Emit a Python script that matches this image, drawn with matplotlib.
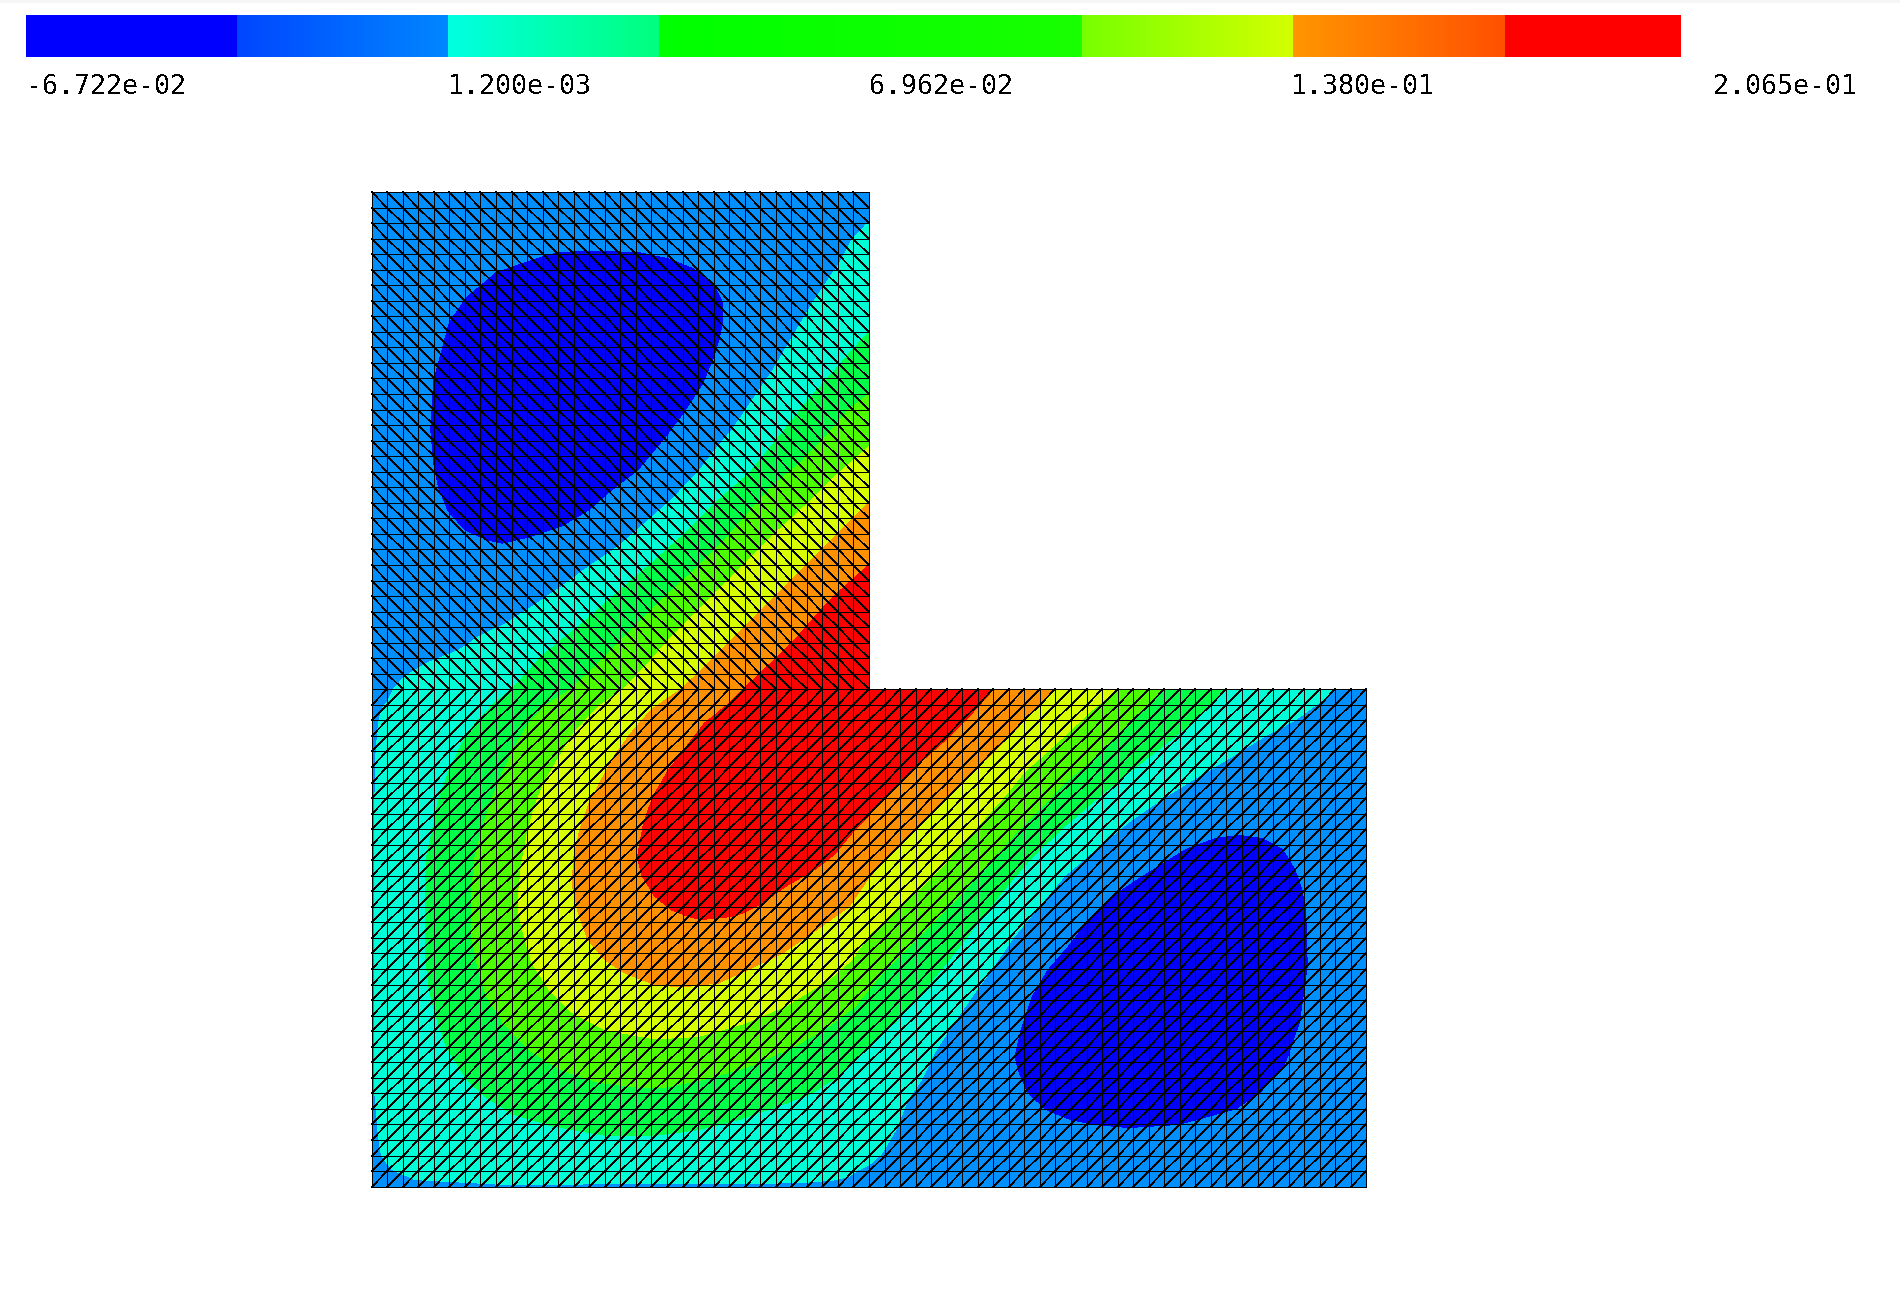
from matplotlib import pyplot as plt
from matplotlib.colors import to_rgb
from matplotlib.patches import Polygon, Rectangle
import matplotlib.tri as mtri
import numpy as np

plt.rcParams['path.simplify'] = False

# colour bar: level edges, one colour ramp per band
bar_edges = [-0.06722, -0.03299, 0.00125, 0.03549, 0.06962, 0.10412, 0.13835, 0.17275, 0.2012]
bar_start = ['#0000ff', '#0046ff', '#00ffe1', '#00ff00', '#0cff00', '#78ff00', '#ff9600', '#ff0000']
bar_stop = ['#0000ff', '#0087ff', '#00ff7d', '#0cff00', '#18ff00', '#d2ff00', '#ff5000', '#ff0000']
tick_values = [-0.06722, 0.0012, 0.06962, 0.138, 0.2065]
tick_labels = ['-6.722e-02', '1.200e-03', '6.962e-02', '1.380e-01', '2.065e-01']

# L-shaped domain in mesh cells
domain = [(0, 0), (64, 0), (64, 32), (32, 32), (32, 64), (0, 64)]
n_cells = 64

# band colours, lowest first
color_deep = '#0000ff'
color_low = '#008fff'
color_cyan = '#00ffd7'
color_green = '#00ff46'
color_lime = '#4bff00'
color_yellow = '#d7ff00'
color_orange = '#ff9100'
color_red = '#ff0000'

# contour outlines (mesh cell units)
cyan_line = [(32, 62.1), (30.9, 60.9), (30.1, 59.4), (29.2, 58.1), (28.35, 56.8), (27.1, 54.7), (25.8, 52.5), (24.5, 50.6),
             (23.2, 48.7), (22.1, 47.4), (21.1, 46.1), (19.3, 44.2), (17.6, 42.7), (15.9, 41.2), (13.7, 39.7), (12.2, 38.6),
             (10.3, 37.3), (8.6, 36.2), (6.9, 35.4), (5.6, 34.5), (3.6, 33.7), (2.1, 32.8), (1.4, 32), (1.07, 31.3),
             (.64, 30.7), (.43, 29.8), (.26, 27.7), (.17, 23.4), (.17, 14), (.2, 6), (.43, 3.2), (.64, 1.95),
             (1.3, 1.1), (2.8, .45), (8.6, .13), (14, .17), (23.4, .17), (27.7, .26), (29.8, .43), (30.7, .64),
             (31.3, 1.07), (32, 1.4), (32.8, 2.1), (33.7, 3.6), (34.5, 5.6), (35.4, 6.9), (36.2, 8.6), (37.3, 10.3),
             (38.6, 12.2), (39.7, 13.7), (41.2, 15.9), (42.9, 18), (44.6, 20), (46.8, 21.9), (48.9, 23.6), (51.1, 25.1),
             (53.2, 26.4), (55.4, 27.7), (57.5, 29), (59.4, 30), (60.9, 31.1), (62, 32)]
green_line = [(32, 55), (30.9, 53.8), (29.6, 52.3), (28.1, 50.6), (26.2, 48.25), (24.3, 45.9), (21.9, 43.8), (19.9, 41.8),
              (18, 40.1), (16.7, 39), (15, 37.5), (13.5, 36.2), (12, 35), (10.9, 34.1), (10.1, 33.2), (9, 32), (7.9, 31.1),
              (6.65, 29.8), (5.8, 28.5), (5, 26.8), (4.3, 24.9), (4, 23.4), (3.54, 21.2), (3.43, 19.1), (3.43, 15),
              (3.7, 12.7), (4.07, 11.2), (4.8, 9), (6.1, 6.9), (7.3, 5.8), (9, 4.7), (11.6, 3.9), (15, 3.3), (18.2, 3.3),
              (21, 3.66), (23.6, 4.3), (26.2, 5.2), (28.3, 6), (30, 7.1), (32, 9), (33.7, 10.6), (35.3, 12.4), (37, 14.4),
              (39, 17), (41, 19.5), (42.5, 21.2), (44.6, 23.2), (46.8, 25.1), (48.9, 26.8), (51.1, 28.5), (53, 30),
              (54.9, 32)]
lime_line = [(32, 51), (30.7, 50), (29.2, 48.25), (27.6, 46.6), (25.7, 45), (24.2, 43.3), (22.5, 41.4), (20.8, 39.7),
             (18.9, 38), (17.1, 36.2), (15.6, 34.7), (14.1, 33.2), (12.8, 32), (11.1, 30.9), (10.1, 29.8), (9.2, 28.3),
             (8.4, 26.6), (7.8, 25.1), (7.2, 23.4), (6.65, 21.2), (6.43, 19.1), (6.43, 16), (6.86, 13.95), (7.4, 12.2),
             (8.5, 10.5), (10.1, 8.8), (12.2, 7.5), (14.6, 6.7), (17.1, 6.4), (18.9, 6.4), (21.4, 6.9), (24.2, 7.7),
             (27.2, 9), (29.4, 10.3), (31.1, 11.6), (32, 12.7), (33.2, 14.1), (34.7, 15.6), (36.2, 17.1), (38, 18.9),
             (39.7, 20.8), (41.4, 22.7), (42.9, 24.2), (44.6, 26), (46.35, 27.45), (47.85, 29), (49.6, 30.7), (51, 32)]
yellow_line = [(32, 47.6), (31.3, 47), (29.6, 45.5), (28.1, 44), (26.2, 42.25), (24.4, 40.5), (22.9, 39), (21, 37.1),
               (19.3, 35.4), (17.8, 33.7), (16.2, 32), (14.6, 30.9), (13, 29.2), (12.1, 27.7), (11.1, 26), (10.5, 24.5),
               (10, 22.7), (9.65, 20.8), (9.47, 19.1), (9.47, 17.5), (9.86, 15.9), (10.3, 14.4), (11.4, 12.7),
               (12.9, 11.2), (15, 10.1), (18.2, 9.5), (21, 9.66), (24, 10.5), (26.6, 11.6), (29.4, 13.3), (30.9, 14.6),
               (32, 16.2), (33.7, 17.8), (35.4, 19.3), (37.1, 21), (39, 23.2), (40.8, 25.2), (42, 26.7), (43.6, 28.1),
               (45, 29.4), (46.6, 30.9), (48, 32)]
orange_line = [(32, 44), (30.2, 42.25), (28.5, 40.5), (27, 39), (25.1, 37.1), (23.4, 35.4), (21.7, 33.7), (19.9, 32),
               (18, 30.7), (16.7, 29.2), (15.6, 27.7), (14.8, 26.2), (14, 24.7), (13.4, 23), (13, 21.2), (12.9, 19.4),
               (13.3, 17.6), (13.9, 15.9), (15, 14.6), (16.3, 13.74), (18.2, 13), (19.9, 12.84), (22.3, 13.1),
               (24.2, 13.95), (26.4, 15), (28.3, 16.3), (30.7, 18), (32, 19.9), (33.7, 21.7), (35.4, 23.4), (37.1, 25.1),
               (39, 27), (40.35, 28.3), (42.5, 30.5), (44, 32)]
red_line = [(32, 40), (30.2, 38.4), (28.9, 37.1), (27.4, 35.4), (25.7, 33.7), (23.9, 32), (23, 31.1), (21.4, 29.8),
            (20.4, 28.5), (19.1, 26.8), (18.1, 25.1), (17.5, 23.4), (17.1, 21.2), (17.4, 20), (18.2, 18.7), (19.3, 17.8),
            (20.6, 17.3), (21.4, 17.2), (23.4, 17.4), (25.1, 18.2), (26.6, 19.3), (28.5, 20.4), (29.8, 21.4), (31.1, 23),
            (32, 23.9), (33.7, 25.7), (35.4, 27.4), (37.1, 28.9), (38.4, 30.2), (40, 32)]

# the two minimum blobs
deep_upper = [(3.8, 48.7), (4, 46.5), (4.3, 45), (4.9, 43.5), (6, 42.25), (7.5, 41.6), (8.4, 41.4), (10.1, 41.8),
              (12.2, 42.5), (13.9, 43.5), (15.4, 44.8), (17.1, 46.1), (18.9, 48.25), (20.2, 50), (21.3, 51.7), (22, 53.4),
              (22.35, 54.5), (22.6, 55.75), (22.6, 56.8), (22.1, 57.9), (21.5, 58.5), (20.6, 59.1), (19.1, 59.7),
              (17.2, 60.1), (14.2, 60.2), (12, 60.1), (10.6, 59.7), (8, 58.8), (6.1, 57.2), (5, 55.6), (4, 51.9)]
deep_lower = [(48.7, 3.8), (46.5, 4), (45, 4.3), (43.5, 4.9), (42.25, 6), (41.6, 7.5), (41.4, 8.4), (41.8, 10.1),
              (42.5, 12.2), (43.5, 13.9), (44.8, 15.4), (46.1, 17.1), (46.8, 17.8), (48.3, 19.1), (50, 20.2), (52.4, 21.7),
              (54.3, 22.4), (55.8, 22.6), (57.3, 22.4), (58.6, 21.7), (59.4, 20.4), (59.85, 19.1), (60.1, 17.6),
              (60.2, 14.2), (59.7, 10.6), (58.8, 8), (57.2, 6.1), (55.6, 5), (51.9, 4)]

W, H = 1900, 1300
fig = plt.figure(figsize=(W / 100, H / 100), dpi=100, facecolor='white')

# faint strip along the top edge of the screenshot
fig.patches.append(Rectangle((0, 1 - 3 / H), 1, 3 / H, transform=fig.transFigure, color='#f6f6f6', lw=0))

# colour bar
bar_ax = fig.add_axes([26 / W, 1 - 57 / H, (1713 - 26) / W, 42 / H])
bar_ax.axis('off')
for i in range(len(bar_start)):
    ramp = np.linspace(to_rgb(bar_start[i]), to_rgb(bar_stop[i]), 64)[np.newaxis, :, :]
    bar_ax.imshow(ramp, extent=(bar_edges[i], bar_edges[i + 1], 0, 1), aspect='auto', interpolation='nearest')
bar_ax.set_xlim(tick_values[0], tick_values[-1])
bar_ax.set_ylim(0, 1)
for value, label in zip(tick_values, tick_labels):
    bar_ax.text(value, -0.40, label, family='DejaVu Sans Mono', fontsize=19.2, color='black',
                ha='left', va='top', clip_on=False, antialiased=False)

# filled bands, each one painted over the one below it
ax = fig.add_axes([371.7 / W, 1 - 1186.6 / H, 994.6 / W, 994.6 / H])
ax.set_xlim(0, n_cells)
ax.set_ylim(0, n_cells)
ax.axis('off')

ax.add_patch(Polygon(domain, facecolor=color_low, edgecolor='none', antialiased=False))
for outline, color in [(deep_upper, color_deep), (deep_lower, color_deep)]:
    ax.add_patch(Polygon(outline, facecolor=color, edgecolor='none', antialiased=False))
bands = [(cyan_line, color_cyan), (green_line, color_green), (lime_line, color_lime),
         (yellow_line, color_yellow), (orange_line, color_orange), (red_line, color_red)]
for outline, color in bands:
    # every band closes through the re-entrant corner
    ax.add_patch(Polygon(outline + [(32, 32)], facecolor=color, edgecolor='none', antialiased=False))

# triangle mesh: diagonals lean \ in the upper arm and / in the lower part
half = n_cells // 2
xs, ys = np.meshgrid(np.arange(n_cells + 1), np.arange(n_cells + 1))
triangles = []
for j in range(n_cells):
    for i in range(n_cells):
        if i >= half and j >= half:
            continue
        a = j * (n_cells + 1) + i
        b = a + 1
        c = a + n_cells + 1
        d = c + 1
        if j >= half:
            triangles += [[a, b, c], [b, d, c]]
        else:
            triangles += [[a, b, d], [a, d, c]]
tri = mtri.Triangulation(xs.ravel(), ys.ravel(), triangles)

# straight edges 1 px, diagonals thinner so they come out as a dotted staircase
edge_x = tri.x[tri.edges]
edge_y = tri.y[tri.edges]
is_diag = (edge_x[:, 0] != edge_x[:, 1]) & (edge_y[:, 0] != edge_y[:, 1])
for mask, width in [(is_diag, 0.34), (~is_diag, 0.72)]:
    seg_x = np.column_stack([edge_x[mask], np.full(mask.sum(), np.nan)]).ravel()
    seg_y = np.column_stack([edge_y[mask], np.full(mask.sum(), np.nan)]).ravel()
    line, = ax.plot(seg_x, seg_y, color='black', lw=width, antialiased=False, clip_on=False)
    line.set_snap(True)

plt.savefig('out.png', dpi=100)
